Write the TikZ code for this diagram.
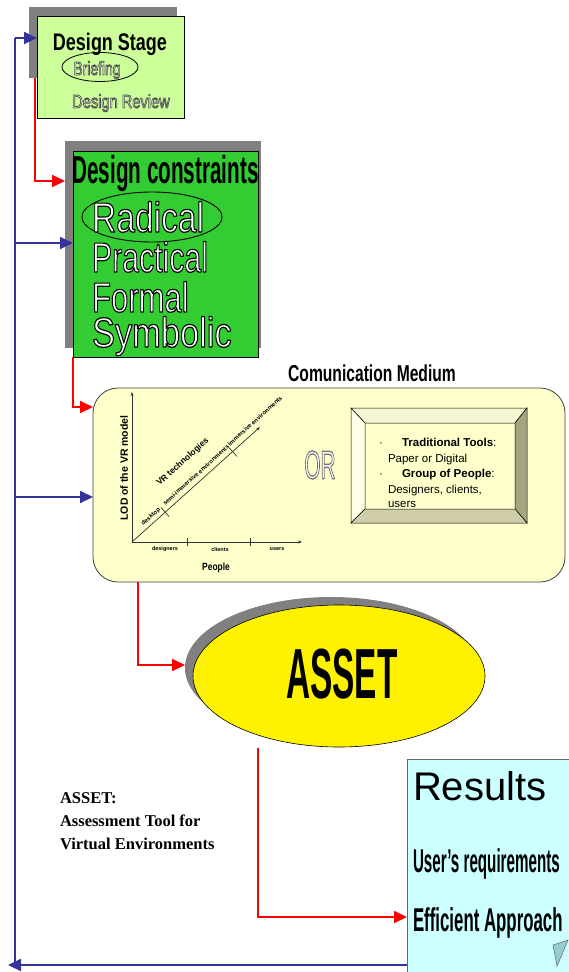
\documentclass[tikz,border=0pt]{standalone}
\usepackage{fontspec}
\setmainfont{Liberation Sans}
\newfontfamily\tms{Liberation Serif}
\usetikzlibrary{arrows.meta,shapes.geometric,calc}
\definecolor{dsgreen}{HTML}{CCFF99}
\definecolor{dcgreen}{HTML}{33CC33}
\definecolor{shgray}{HTML}{808080}
\definecolor{cmyellow}{HTML}{FFFFCC}
\definecolor{myblue}{HTML}{333399}
\definecolor{rcyan}{HTML}{CCFFFF}
\definecolor{bvtop}{HTML}{F6F5D2}
\definecolor{bvleft}{HTML}{FEFEE6}
\definecolor{bvright}{HTML}{A6A581}
\definecolor{bvbot}{HTML}{CFCEA8}
\definecolor{foldc}{HTML}{99CCCC}
\newcommand{\fsz}[1]{\fontsize{#1}{#1}\selectfont}
\newcommand{\cnd}[3]{\scalebox{#1}[1]{\fsz{#2}#3}}
% outlined text: #1 stroke rgb, #2 stroke width, #3 text (fill = current colour)
\newcommand{\outl}[3]{{\special{pdf:literal direct 2 Tr #2 w 1 j #1 RG}#3\special{pdf:literal direct 0 Tr}}}
\tikzset{
  redarr/.style={draw=red, line width=2pt, -{Triangle[length=13pt,width=12pt]}},
  bluearr/.style={draw=myblue, line width=2pt, -{Triangle[length=13pt,width=12pt]}},
  blueline/.style={draw=myblue, line width=2pt},
  shadowbox/.style={fill=shgray, draw=none},
  axisline/.style={draw=black!80, line width=0.7pt},
  axisarr/.style={axisline, -{Stealth[length=4pt,width=3pt]}},
  bevel/.style={draw=black, line width=0.5pt},
  tiny/.style={font=\fsz{5.5}\bfseries},
}
\begin{document}
\begin{tikzpicture}[x=1pt,y=-1pt,inner sep=0pt,outer sep=0pt]
\useasboundingbox (0,0) rectangle (569,972);

% ---------- Design Stage ----------
\node[shadowbox, minimum width=148, minimum height=71, anchor=north west] (dssh) at (29,7) {};
\node[draw=black, line width=0.6pt, fill=dsgreen, minimum width=147, minimum height=102, anchor=north west] (ds) at (37,16) {};
\node[anchor=base] (dst) at (110,50) {\cnd{0.75}{24}{\bfseries Design Stage}};
\node[ellipse, draw=black, line width=0.8pt, minimum width=76, minimum height=29] (brel) at (100,67) {};
\node[anchor=base] (brt) at (97,75) {\color{dsgreen!30!white}\cnd{0.73}{19}{\outl{0.3 0.3 0.3}{0.8}{Briefing}}};
\node[anchor=base] (drt) at (121,108) {\color{dsgreen!30!white}\cnd{0.77}{19}{\outl{0.3 0.3 0.3}{0.8}{Design Review}}};

% ---------- Design constraints ----------
\node[shadowbox, minimum width=196, minimum height=207, anchor=north west] (dcsh) at (65,141) {};
\node[draw=black, line width=0.8pt, fill=dcgreen, minimum width=185, minimum height=206, anchor=north west] (dc) at (73,151) {};
\node[anchor=base] (dct) at (165.5,183) {\cnd{0.53}{39}{\bfseries Design constraints}};
\node[ellipse, draw=black, line width=0.9pt, minimum width=140, minimum height=50] (radel) at (152,217) {};
\node[anchor=base west] (rad) at (92,232) {\color{white}\cnd{0.8}{42}{\outl{0 0 0}{1.2}{Radical}}};
\node[anchor=base west] (pra) at (92,272) {\color{white}\cnd{0.72}{42}{\outl{0 0 0}{1.2}{Practical}}};
\node[anchor=base west] (for) at (92,312) {\color{white}\cnd{0.74}{42}{\outl{0 0 0}{1.2}{Formal}}};
\node[anchor=base west] (sym) at (92,347) {\color{white}\cnd{0.82}{42}{\outl{0 0 0}{1.2}{Symbolic}}};

% ---------- Communication medium ----------
\node[anchor=base] (cmt) at (372,381) {\cnd{0.68}{23}{\bfseries Comunication Medium}};
\node[draw=black!75, line width=0.8pt, fill=cmyellow, rounded corners=25pt, minimum width=472, minimum height=194, anchor=north west] (cm) at (93,388) {};

% chart
\coordinate (o) at (132,542);
\coordinate (yt) at (132,392);
\coordinate (xr) at (302,542);
\coordinate (de) at (260,427);
\draw[axisarr] (o) -- (yt);
\draw[axisarr] (o) -- (xr);
\draw[axisarr] (o) -- (de);
\draw[axisline] (187,538) -- (187,546);
\draw[axisline] (250,538) -- (250,546);
\draw[axisline] (161,507.5) -- (169,516.5);
\draw[axisline] (229,447.5) -- (237,456.5);
\node[tiny] (lx1) at (165,549.5) {designers};
\node[tiny] (lx2) at (220,549.5) {clients};
\node[tiny] (lx3) at (277,549.5) {users};
\node[anchor=base] (ppl) at (216,570) {\cnd{0.8}{10.5}{\bfseries People}};
\node[rotate=90] (lod) at (124,468) {\fsz{10.5}\bfseries LOD of the VR model};
\node[rotate=42, font=\fsz{6}\bfseries] (dk) at (151,517) {desktop};
\node[rotate=42, font=\fsz{6}\bfseries] (semi) at (196,475) {semi-immersive environments};
\node[rotate=42, font=\fsz{6}\bfseries] (imm) at (255,421) {immersive environments};
\node[rotate=42, font=\fsz{8.5}\bfseries] (vrt) at (183,462) {VR technologies};

\node (or) at (320,465) {\color{white}\cnd{0.52}{40}{\outl{0.45 0.45 0.45}{1.3}{OR}}};

% bevel box
\node[minimum width=176, minimum height=115, anchor=north west] (tb) at (351,408) {};
\coordinate (ia) at (365,423);
\coordinate (ib) at (515,423);
\coordinate (ic) at (515,509);
\coordinate (id) at (365,509);
\fill[cmyellow] (ia) rectangle (ic);
\filldraw[bevel, fill=bvtop] (tb.north west) -- (tb.north east) -- (ib) -- (ia) -- cycle;
\filldraw[bevel, fill=bvleft] (tb.north west) -- (ia) -- (id) -- (tb.south west) -- cycle;
\filldraw[bevel, fill=bvright] (tb.north east) -- (tb.south east) -- (ic) -- (ib) -- cycle;
\filldraw[bevel, fill=bvbot] (tb.south west) -- (id) -- (ic) -- (tb.south east) -- cycle;
\node[anchor=base west] (b1) at (379,446) {\fsz{11.5}·};
\node[anchor=base west] (t1) at (402,446) {\fsz{11.5}\textbf{Traditional Tools}:};
\node[anchor=base west] (t2) at (388,462) {\fsz{11.5}Paper or Digital};
\node[anchor=base west] (b2) at (379,477) {\fsz{11.5}·};
\node[anchor=base west] (t3) at (402,477) {\fsz{11.5}\textbf{Group of People}:};
\node[anchor=base west] (t4) at (388,493) {\fsz{11.5}Designers, clients,};
\node[anchor=base west] (t5) at (388,507) {\fsz{11.5}users};

% ---------- ASSET ----------
\node[ellipse, fill=shgray, minimum width=292, minimum height=142] (assh) at (331,668) {};
\node[ellipse, draw=black, line width=0.6pt, fill=yellow, minimum width=292, minimum height=142] (as) at (339,676) {};
\node[anchor=base] (ast) at (342,698) {\cnd{0.47}{71}{\bfseries ASSET}};

% caption
\node[anchor=base west] (c1) at (60,803) {\tms\fsz{16.5}\bfseries ASSET:};
\node[anchor=base west] (c2) at (60,826) {\tms\fsz{16.5}\bfseries Assessment Tool for};
\node[anchor=base west] (c3) at (60,849) {\tms\fsz{16.5}\bfseries Virtual Environments};

% ---------- Results ----------
\node[draw=black!60, line width=0.6pt, fill=rcyan, minimum width=170, minimum height=225, anchor=north west] (rs) at (407,759) {};
\node[anchor=base west] (rt) at (413,800) {\fsz{40}Results};
\node[anchor=base west] (ru) at (413,872) {\cnd{0.46}{33}{\bfseries User's requirements}};
\node[anchor=base west] (re) at (413,931) {\cnd{0.51}{33}{\bfseries Efficient Approach}};
\filldraw[draw=black!60, line width=0.5pt, fill=foldc] (553,945) -- (568,940) -- (557,966) -- cycle;

% ---------- red connectors ----------
\coordinate (r1s) at (35,78);
\coordinate (y181) at (0,181);
\coordinate (y407) at (0,407);
\coordinate (r3s) at (138,582);
\coordinate (y665) at (0,665);
\coordinate (r4s) at (258,748);
\coordinate (y917) at (0,917);
\draw[redarr] (r1s) |- (y181 -| dcsh.west);
\draw[redarr] (dc.south west) |- (y407 -| cm.west);
\draw[redarr] (r3s) |- (y665 -| assh.west);
\draw[redarr] (r4s) |- (y917 -| rs.west);

% ---------- blue feedback ----------
\coordinate (bl) at (15,965);
\coordinate (btop) at (15,38);
\coordinate (bmid) at (15,243);
\coordinate (blow) at (15,497);
\coordinate (bend) at (8,965);
\draw[blueline] (bl) -- (btop);
\draw[bluearr] (bl -| rs.west) -- (bend);
\draw[bluearr] (btop) -- (btop -| ds.west);
\draw[bluearr] (bmid) -- (bmid -| dc.west);
\draw[bluearr] (blow) -- (blow -| cm.west);
\end{tikzpicture}
\end{document}
